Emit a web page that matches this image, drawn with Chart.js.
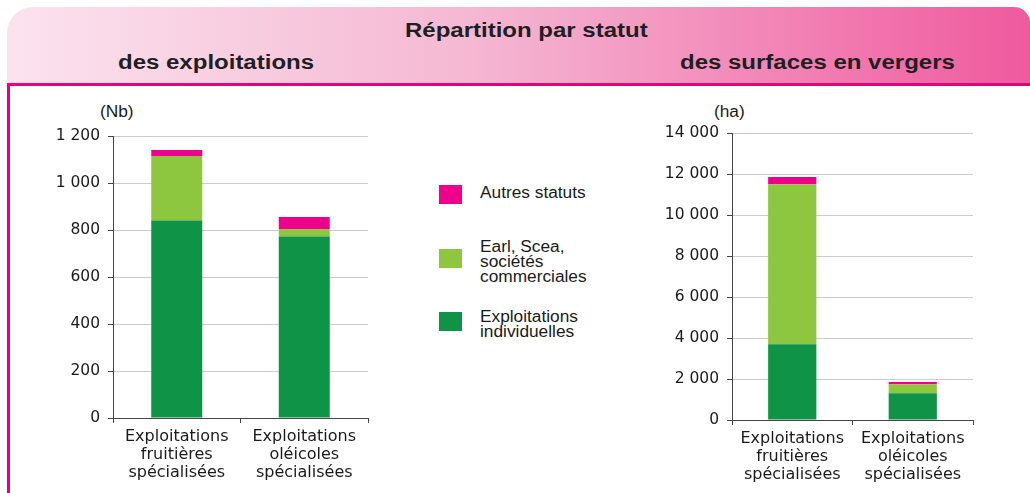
<!DOCTYPE html>
<html>
<head>
<meta charset="utf-8">
<script src="https://cdn.jsdelivr.net/npm/chart.js@4.4.1/dist/chart.umd.min.js"></script>
<style>
  html, body { margin:0; padding:0; background:#fff; }
  body { width:1030px; height:493px; position:relative; overflow:hidden; font-family:"Liberation Sans", Arial, sans-serif; color:#1a1a1a; }
  #band { position:absolute; left:7px; top:7px; width:1023px; height:76px;
          border-top-left-radius:26px; border-top-right-radius:16px;
          background:linear-gradient(to right, #fbe3ee 0%, #f5b8d3 45%, #ef5a9e 100%); }
  #hline { position:absolute; left:7px; top:83px; width:1023px; height:3px; background:#e6007e; }
  #vline { position:absolute; left:7px; top:83px; width:3px; height:410px; background:#e6007e; }
  .t { position:absolute; font-weight:bold; font-size:20px; line-height:20px; white-space:nowrap; color:#1f1f1f;
       transform:scaleX(1.2); transform-origin:left top; }
  .u { position:absolute; font-size:16px; line-height:16px; white-space:nowrap; transform:scaleX(1.08); transform-origin:left top; }
  canvas { position:absolute; }
  .lg { position:absolute; left:439px; width:23px; height:19px; }
  .lt { position:absolute; left:480px; font-size:16px; line-height:15px; white-space:nowrap; transform:scaleX(1.08); transform-origin:left top; }
</style>
</head>
<body>
<div id="band"></div>
<div id="hline"></div>
<div id="vline"></div>
<div class="t" id="mainTitle" style="left:405px;top:20px;"></div>
<div class="t" id="subLeft" style="left:118px;top:52px;"></div>
<div class="t" id="subRight" style="left:680px;top:52px;"></div>
<div class="u" id="unitLeft" style="left:100px;top:104px;"></div>
<div class="u" id="unitRight" style="left:714px;top:104px;"></div>
<canvas id="cLeft" width="370" height="393" style="left:20px;top:100px;"></canvas>
<canvas id="cRight" width="400" height="393" style="left:630px;top:100px;"></canvas>
<div id="legend"></div>
<script>
// ---- Text ----
const mainTitle = "Répartition par statut";
const subtitleLeft = "des exploitations";
const subtitleRight = "des surfaces en vergers";
const unitLeft = "(Nb)";
const unitRight = "(ha)";

// ---- Categories ----
const categories = [
  ["Exploitations", "fruitières", "spécialisées"],
  ["Exploitations", "oléicoles", "spécialisées"]
];

// ---- Series names (bottom to top of stack) ----
const seriesNames = [
  ["Exploitations", "individuelles"],
  ["Earl, Scea,", "sociétés", "commerciales"],
  ["Autres statuts"]
];
const seriesColors = ["#0f9447", "#8dc63f", "#ec008c"];

// ---- Left chart: number of holdings ----
const nbIndividuelles = [840, 772];
const nbSocietes = [275, 32];
const nbAutres = [25, 51];
const nbTicks = { min: 0, max: 1200, step: 200 };

// ---- Right chart: orchard area (ha) ----
const haIndividuelles = [3700, 1300];
const haSocietes = [7800, 450];
const haAutres = [350, 100];
const haTicks = { min: 0, max: 14000, step: 2000 };

document.getElementById('mainTitle').textContent = mainTitle;
document.getElementById('subLeft').textContent = subtitleLeft;
document.getElementById('subRight').textContent = subtitleRight;
document.getElementById('unitLeft').textContent = unitLeft;
document.getElementById('unitRight').textContent = unitRight;

// ---- HTML legend (top to bottom: reversed stack order) ----
const legendTops = [309, 239, 185];
const legendBoxTops = [312, 249, 185];
const lg = document.getElementById('legend');
seriesNames.forEach((name, i) => {
  const b = document.createElement('div');
  b.className = 'lg';
  b.style.top = legendBoxTops[i] + 'px';
  b.style.background = seriesColors[i];
  lg.appendChild(b);
  const t = document.createElement('div');
  t.className = 'lt';
  t.style.top = legendTops[i] + 'px';
  t.innerHTML = name.join('<br>');
  lg.appendChild(t);
});

function fmt(v) { return String(v).replace(/\B(?=(\d{3})+(?!\d))/g, ' '); }

function makeChart(id, series, ticks, yWidth, padRight, padTop, xHeight) {
  const textColor = '#1a1a1a';
  return new Chart(document.getElementById(id), {
    type: 'bar',
    data: {
      labels: categories,
      datasets: series.map((d, i) => ({
        label: seriesNames[i].join(' '),
        data: d,
        backgroundColor: seriesColors[i],
        borderWidth: 0,
        categoryPercentage: 1,
        barPercentage: 0.4
      }))
    },
    options: {
      responsive: false,
      animation: false,
      devicePixelRatio: 1,
      layout: { padding: { top: padTop, right: padRight, left: 0, bottom: 0 } },
      plugins: { legend: { display: false }, title: { display: false }, tooltip: { enabled: false } },
      scales: {
        x: {
          stacked: true,
          grid: { display: true, drawOnChartArea: false, drawTicks: true, tickLength: 5, tickColor: '#444', offset: true },
          border: { display: true, color: '#444', width: 1 },
          ticks: { color: textColor, font: { family: 'DejaVu Sans', size: 16, lineHeight: 1.125 }, padding: 5, maxRotation: 0, autoSkip: false },
          afterFit: s => { s.height = xHeight; }
        },
        y: {
          stacked: true,
          min: ticks.min, max: ticks.max,
          grid: { color: '#cccccc', lineWidth: 1, tickLength: 5, tickColor: '#444' },
          border: { display: true, color: '#444', width: 1 },
          ticks: { stepSize: ticks.step, color: textColor, font: { family: 'DejaVu Sans', size: 15.5 }, padding: 8, callback: v => fmt(v) },
          afterFit: s => { s.width = yWidth; }
        }
      }
    }
  });
}

makeChart('cLeft', [nbIndividuelles, nbSocietes, nbAutres], nbTicks, 93, 22, 36, 75);
makeChart('cRight', [haIndividuelles, haSocietes, haAutres], haTicks, 102, 57, 33, 73);
</script>
</body>
</html>
